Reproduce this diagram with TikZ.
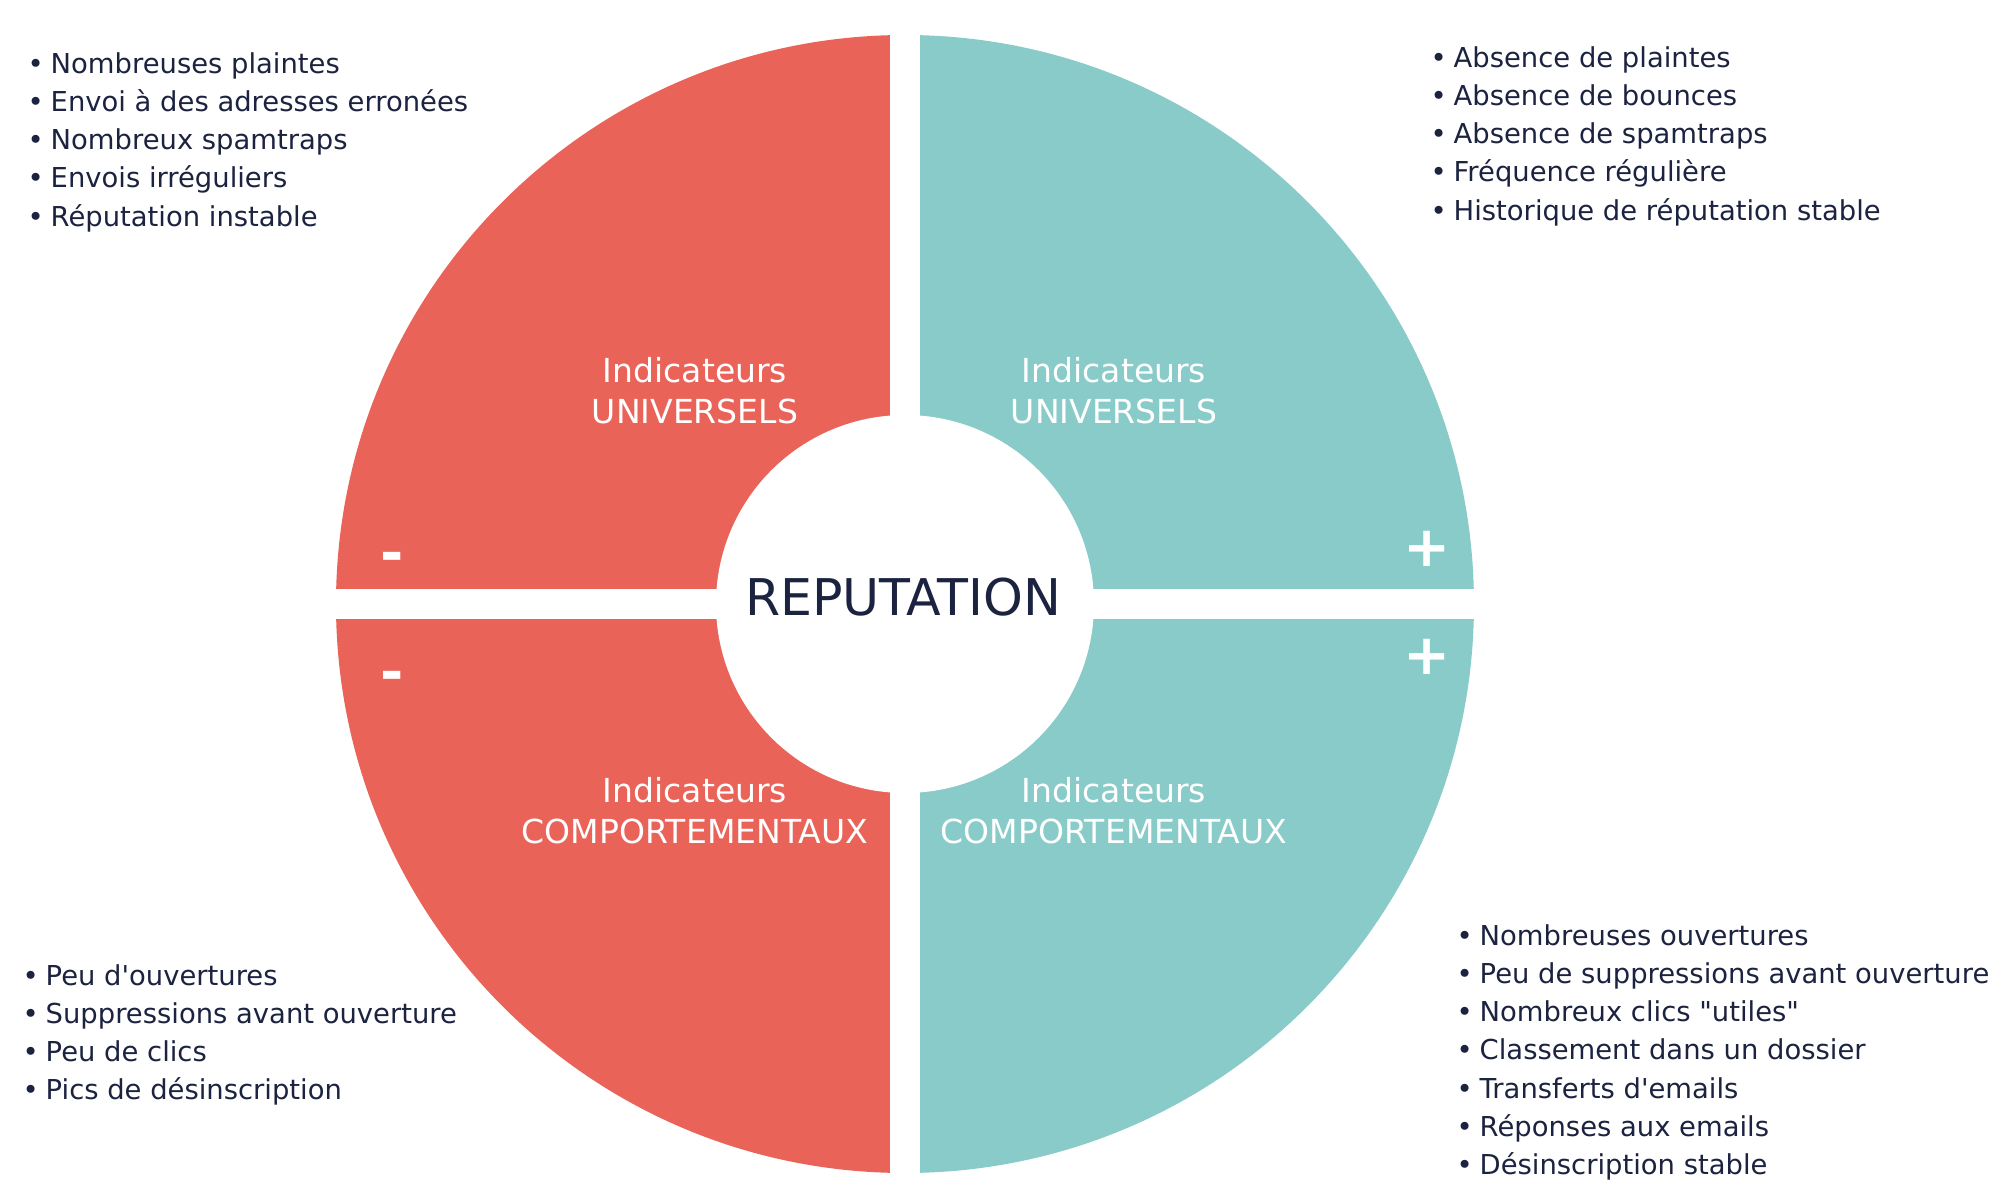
\documentclass[tikz,border=0pt]{standalone}
\usepackage{fontspec}
\setmainfont{DejaVu Sans}
\usetikzlibrary{positioning}
\definecolor{negred}{RGB}{233,99,89}
\definecolor{posteal}{RGB}{136,203,200}
\definecolor{ink}{RGB}{28,35,64}

\begin{document}
\begin{tikzpicture}
                \tikzstyle{item} = [anchor=base west, inner sep=0pt, text=ink, font=\fontsize{7.8}{10}\selectfont]
                \tikzstyle{quadlabel} = [anchor=base, inner sep=0pt, align=center, text=white, font=\fontsize{9.4}{11.4}\selectfont]
                \tikzstyle{sign} = [inner sep=0pt, text=white, font=\fontsize{16}{16}\selectfont\bfseries]
                \useasboundingbox (-9.05, -5.90) rectangle (10.94, 6.04);
                \fill[negred] (0, -5.69) arc[start angle=-90, end angle=-270, radius=5.69] -- cycle;
                \fill[posteal] (0, 5.69) arc[start angle=90, end angle=-90, radius=5.69] -- cycle;
                \fill[white] (-0.15, -5.8) rectangle (0.15, 5.8);
                \fill[white] (-5.8, -0.15) rectangle (5.8, 0.15);
                \fill[white] (0, 0) circle[radius=1.89];
                \node[anchor=base, inner sep=0pt, text=ink, font=\fontsize{14.4}{15}\selectfont] (rep) at (-0.02, -0.11) {REPUTATION};
                \node[quadlabel] (univneg) at (-2.10, 1.81) {Indicateurs\\UNIVERSELS};
                \node[quadlabel] (univpos) at (2.09, 1.81) {Indicateurs\\UNIVERSELS};
                \node[quadlabel] (compneg) at (-2.10, -2.39) {Indicateurs\\COMPORTEMENTAUX};
                \node[quadlabel] (comppos) at (2.09, -2.39) {Indicateurs\\COMPORTEMENTAUX};
                \node[sign] (minusu) at (-5.125, 0.415) {-};
                \node[sign] (minusc) at (-5.125, -0.77) {-};
                \node[sign] (plusu) at (5.225, 0.55) {+};
                \node[sign] (plusc) at (5.225, -0.53) {+};
                \foreach \t [count=\i] in {Nombreuses plaintes, Envoi à des adresses erronées, Nombreux spamtraps, Envois irréguliers, Réputation instable}
                    \node[item] (tl\i) at (-8.78, 5.31 - 0.383*\i + 0.383) {\makebox[0.23cm][l]{\textbullet}\t};
                \foreach \t [count=\i] in {Absence de plaintes, Absence de bounces, Absence de spamtraps, Fréquence régulière, Historique de réputation stable}
                    \node[item] (tr\i) at (5.25, 5.37 - 0.383*\i + 0.383) {\makebox[0.23cm][l]{\textbullet}\t};
                \foreach \t [count=\i] in {Peu d\textquotesingle ouvertures, Suppressions avant ouverture, Peu de clics, Pics de désinscription}
                    \node[item] (bl\i) at (-8.83, -3.81 - 0.383*\i + 0.383) {\makebox[0.23cm][l]{\textbullet}\t};
                \foreach \t [count=\i] in {Nombreuses ouvertures, Peu de suppressions avant ouverture, Nombreux clics \textquotedbl utiles\textquotedbl, Classement dans un dossier, Transferts d\textquotesingle emails, Réponses aux emails, Désinscription stable}
                    \node[item] (br\i) at (5.51, -3.41 - 0.383*\i + 0.383) {\makebox[0.23cm][l]{\textbullet}\t};
            \end{tikzpicture}
\end{document}
